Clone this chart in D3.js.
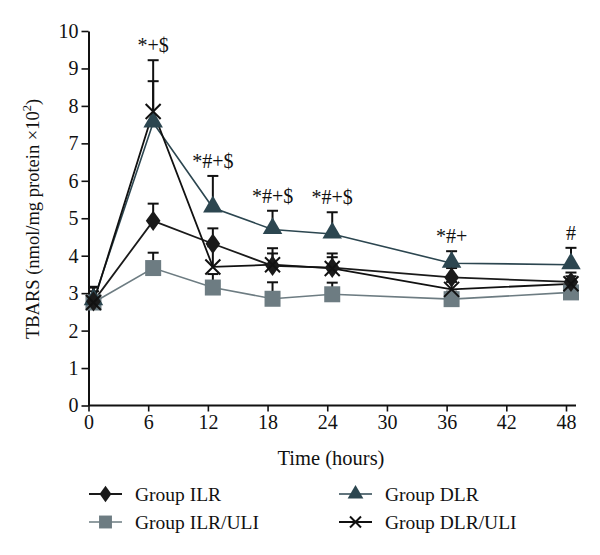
<!DOCTYPE html>
<html><head><meta charset="utf-8">
<script src="https://cdn.jsdelivr.net/npm/d3@7"></script>
<style>body{margin:0;background:#fff}svg{display:block}</style>
</head><body><svg id="c" width="600" height="555"></svg>
<script>
const times = [0.5, 6.5, 12.5, 18.5, 24.5, 36.5, 48.5];
const xTicks = [0, 6, 12, 18, 24, 30, 36, 42, 48];
const yTicks = [0,1,2,3,4,5,6,7,8,9,10];
const seriesNames = ["Group ILR", "Group ILR/ULI", "Group DLR", "Group DLR/ULI"];
const ilr     = [2.78, 4.93, 4.32, 3.73, 3.68, 3.42, 3.30];
const ilrErr  = [0.38, 0.46, 0.41, 0.47, 0.38, 0.25, 0.25];
const ilrUli    = [2.75, 3.67, 3.15, 2.85, 2.97, 2.84, 3.02];
const ilrUliErr = [0.30, 0.41, 0.36, 0.44, 0.31, 0.20, 0.20];
const dlr     = [2.80, 7.55, 5.28, 4.70, 4.58, 3.80, 3.76];
const dlrErr  = [0.35, 1.11, 0.85, 0.50, 0.58, 0.32, 0.45];
const dlrUli    = [2.75, 7.85, 3.70, 3.76, 3.66, 3.10, 3.25];
const dlrUliErr = [0.42, 1.37, 0.55, 0.30, 0.30, 0.20, 0.20];
const annLabels = ["", "*+$", "*#+$", "*#+$", "*#+$", "*#+", "#"];

const svg = d3.select("#c");
const font = "'Liberation Serif', 'Times New Roman', serif";
const x = d3.scaleLinear().domain([0, 48]).range([88.5, 566]);
const y = d3.scaleLinear().domain([0, 10]).range([405.5, 31]);

// axes
const xAxis = svg.append("g").attr("transform", "translate(0,405.5)")
  .call(d3.axisBottom(x).tickValues(xTicks).tickSize(6).tickPadding(3).tickSizeOuter(0));
xAxis.select(".domain").attr("d", `M${x(0)},0H576`);
const yAxis = svg.append("g").attr("transform", "translate(88.5,0)")
  .call(d3.axisLeft(y).tickValues(yTicks).tickSize(7).tickPadding(3).tickSizeOuter(0));
[xAxis, yAxis].forEach(a => {
  a.selectAll(".domain").attr("stroke", "#111").attr("stroke-width", 2);
  a.selectAll(".tick line").attr("stroke", "#111").attr("stroke-width", 1.6);
  a.selectAll(".tick text").attr("font-family", font).attr("font-size", 20).attr("fill", "#111");
});

svg.append("text").attr("x", 331).attr("y", 465).attr("text-anchor", "middle")
  .attr("font-family", font).attr("font-size", 20.5).attr("fill", "#111").text("Time (hours)");
const yl = svg.append("text").attr("transform", "translate(39,219) rotate(-90)")
  .attr("text-anchor", "middle").attr("font-family", font).attr("font-size", 18.5).attr("fill", "#111");
yl.append("tspan").text("TBARS (nmol/mg protein ×10");
yl.append("tspan").attr("font-size", 12.5).attr("dy", -8).text("2");
yl.append("tspan").attr("dy", 8).text(")");

const series = [
  {name: seriesNames[0], v: ilr, e: ilrErr, color: "#1a1a1a", lw: 1.8, sym: d3.symbolDiamond, size: 120, fill: "#1a1a1a"},
  {name: seriesNames[1], v: ilrUli, e: ilrUliErr, color: "#6d7c82", lw: 1.6, sym: d3.symbolSquare, size: 256, fill: "#6d7c82"},
  {name: seriesNames[2], v: dlr, e: dlrErr, color: "#2c4650", lw: 1.6, sym: d3.symbolTriangle, size: 165, fill: "#2c4650"},
  {name: seriesNames[3], v: dlrUli, e: dlrUliErr, color: "#111", lw: 1.8, sym: "x", size: 7.5, fill: "none"}
];

const line = d3.line().x((d, i) => x(times[i])).y(d => y(d));
// error bars
series.forEach(s => {
  const g = svg.append("g");
  s.v.forEach((v, i) => {
    const top = y(v + s.e[i]);
    g.append("line").attr("x1", x(times[i])).attr("x2", x(times[i])).attr("y1", y(v)).attr("y2", top)
      .attr("stroke", "#111").attr("stroke-width", 2);
    g.append("line").attr("x1", x(times[i]) - 5.5).attr("x2", x(times[i]) + 5.5).attr("y1", top).attr("y2", top)
      .attr("stroke", "#111").attr("stroke-width", 2);
  });
});
// lines
[1, 2, 0, 3].forEach(k => {
  const s = series[k];
  svg.append("path").attr("d", line(s.v)).attr("fill", "none").attr("stroke", s.color).attr("stroke-width", s.lw);
});
function drawMarker(g, s, cx, cy) {
  if (s.sym === "x") {
    const r = s.size;
    g.append("path").attr("d", `M${cx-r},${cy-r}L${cx+r},${cy+r}M${cx-r},${cy+r}L${cx+r},${cy-r}`)
      .attr("stroke", s.color).attr("stroke-width", 2).attr("fill", "none");
  } else {
    g.append("path").attr("d", d3.symbol().type(s.sym).size(s.size)())
      .attr("transform", `translate(${cx},${cy})` + (s.sym === d3.symbolDiamond ? " scale(1.25,1)" : ""))
      .attr("fill", s.fill);
  }
}
// markers
[1, 2, 0, 3].forEach(k => {
  const s = series[k];
  const g = svg.append("g");
  s.v.forEach((v, i) => drawMarker(g, s, x(times[i]), y(v) + (s.sym === d3.symbolTriangle ? -1 : 0)));
});
// annotations
annLabels.forEach((t, i) => {
  if (!t) return;
  const cap = d3.max(series, s => s.v[i] + s.e[i]);
  svg.append("text").attr("x", x(times[i])).attr("y", y(cap) - 8).attr("text-anchor", "middle")
    .attr("font-family", font).attr("font-size", 20).attr("fill", "#111").text(t);
});
// legend
const legPos = [[89, 494], [89, 522], [339, 494], [339, 522]];
series.forEach((s, k) => {
  const [lx, ly] = legPos[k];
  const g = svg.append("g");
  g.append("line").attr("x1", lx).attr("x2", lx + 33).attr("y1", ly).attr("y2", ly)
    .attr("stroke", s.color).attr("stroke-width", s.lw);
  drawMarker(g, Object.assign({}, s, {size: s.sym === "x" ? 5.5 : s.size * 0.65}), lx + 16.5, ly);
  g.append("text").attr("x", lx + 46).attr("y", ly + 6.5).attr("font-family", font).attr("font-size", 19.5)
    .attr("fill", "#111").text(s.name);
});
</script></body></html>
